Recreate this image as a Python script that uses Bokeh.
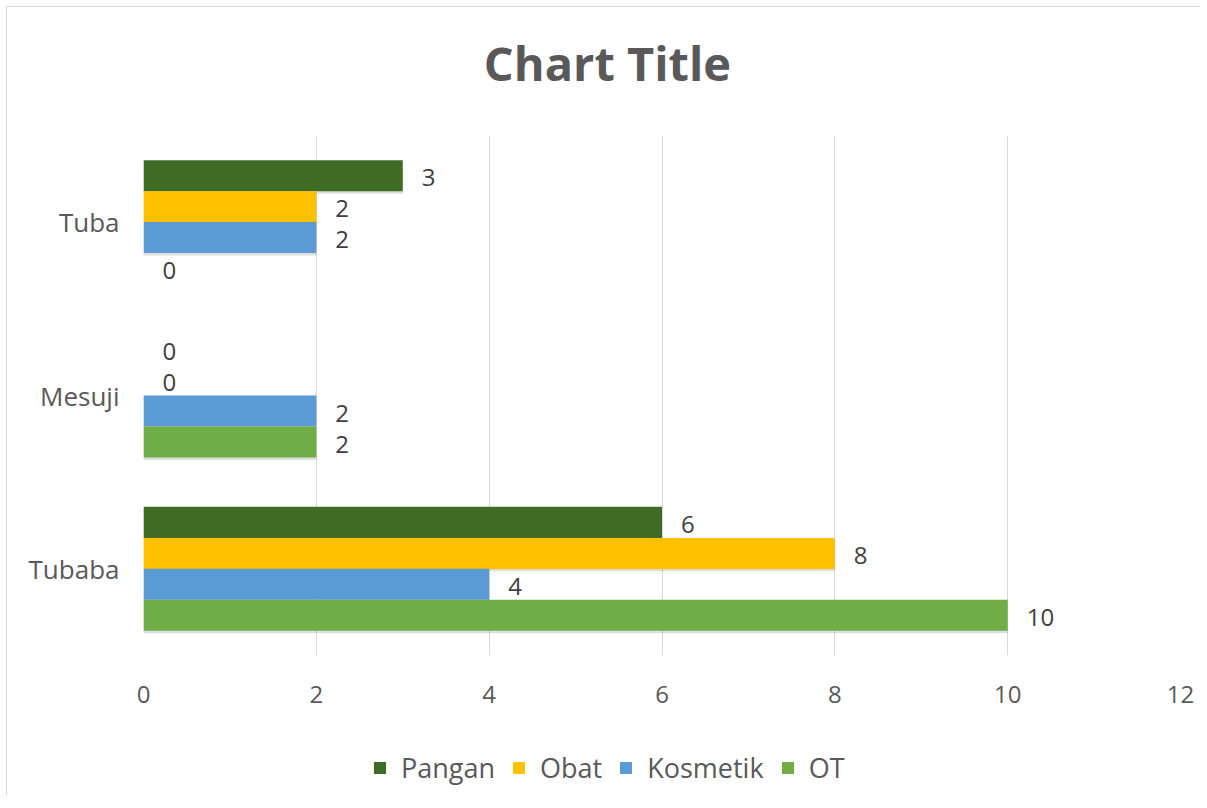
from bokeh.plotting import figure
from bokeh.models import ColumnDataSource, FactorRange, Legend, LegendItem, FixedTicker, LabelSet
from bokeh.layouts import column
from bokeh.transform import dodge
from bokeh.core.properties import value
from bokeh.embed import file_html
from bokeh.resources import INLINE

title_text = "Chart Title"
categories = ["Tubaba", "Mesuji", "Tuba"]
series = ["Pangan", "Obat", "Kosmetik", "OT"]
pangan = [6, 0, 3]
obat = [8, 0, 2]
kosmetik = [4, 2, 2]
ot = [10, 2, 0]
x_ticks = [0, 2, 4, 6, 8, 10, 12]

colors = {"Pangan": "#3f6b25", "Obat": "#ffc000", "Kosmetik": "#5b9bd5", "OT": "#70ad47"}
values = {"Pangan": pangan, "Obat": obat, "Kosmetik": kosmetik, "OT": ot}
offsets = {"Pangan": 0.268, "Obat": 0.089, "Kosmetik": -0.089, "OT": -0.268}
bar_h = 0.179

FONT = "Open Sans"
GREY = "#595959"

# ---- title strip ----
pt = figure(width=1193, height=128, output_backend="svg", toolbar_location=None,
            x_range=(0, 1037), y_range=(0, 128), min_border=0,
            x_axis_location=None, y_axis_location=None)
pt.outline_line_color = None
pt.grid.visible = False
pt.text(x=[464], y=[73], text=[title_text], text_align="center", text_baseline="alphabetic",
        text_font=value(FONT), text_font_size="47px", text_font_style="bold", text_color=GREY)

# ---- main chart ----
src = ColumnDataSource(dict(cat=categories, **{s: values[s] for s in series}))

p = figure(frame_width=1037, frame_height=520, output_backend="svg", toolbar_location=None,
           y_range=FactorRange(factors=categories), x_range=(0, 12),
           min_border_left=136, min_border_right=20, min_border_top=0, min_border_bottom=90)
p.outline_line_color = None
p.background_fill_color = "white"
p.border_fill_color = "white"

# shadows
for s in series:
    p.hbar(y=dodge("cat", offsets[s] - 0.014, range=p.y_range), right=s, left=0, height=bar_h,
           source=src, fill_color="black", fill_alpha=0.13, line_color=None)

renderers = {}
for s in series:
    renderers[s] = p.hbar(y=dodge("cat", offsets[s], range=p.y_range), right=s, left=0,
                          height=bar_h, source=src, fill_color=colors[s], line_color=None)

for s in series:
    lbl = LabelSet(x=s, y=dodge("cat", offsets[s] - 0.012, range=p.y_range), text=s, source=src,
                   x_offset=19, text_baseline="middle", text_align="left",
                   text_font=value(FONT), text_font_size="24px", text_color="#404040")
    p.add_layout(lbl)

p.xaxis.ticker = FixedTicker(ticks=x_ticks)
p.xgrid.ticker = FixedTicker(ticks=x_ticks)
p.xgrid.grid_line_color = "#d9d9d9"
p.ygrid.grid_line_color = None
for ax in (p.xaxis, p.yaxis):
    ax.axis_line_color = None
    ax.major_tick_line_color = None
    ax.minor_tick_line_color = None
    ax.major_label_text_font = FONT
    ax.major_label_text_font_size = "24px"
    ax.major_label_text_color = GREY
p.yaxis.major_label_text_font_size = "26px"
p.xaxis.major_label_standoff = 24
p.yaxis.major_label_standoff = 18

# ---- legend strip ----
pl = figure(width=1193, height=50, output_backend="svg", toolbar_location=None,
            x_range=(0, 1), y_range=(0, 1), min_border=0,
            x_axis_location=None, y_axis_location=None)
pl.outline_line_color = None
pl.grid.visible = False
leg_renderers = {}
for s in series:
    # swatch renderers only: their single quad lies outside the strip's visible range
    leg_renderers[s] = pl.quad(top=[-4], bottom=[-5], left=[-5], right=[-4],
                               fill_color=colors[s], line_color=None)

legend = Legend(items=[LegendItem(label=s, renderers=[leg_renderers[s]]) for s in series],
                orientation="horizontal", location=(229, 9),
                label_text_font=FONT, label_text_font_size="27px", label_text_color=GREY,
                glyph_width=15, glyph_height=15, label_standoff=14, spacing=16,
                border_line_color=None, background_fill_alpha=0, margin=0, padding=0)
pl.add_layout(legend)

lay = column(pt, p, pl, spacing=0)
lay.styles = {"margin-left": "6px", "margin-top": "6px",
              "border-left": "1px solid #d9d9d9", "border-top": "1px solid #d9d9d9"}

open("out.html", "w").write(file_html(lay, INLINE))
